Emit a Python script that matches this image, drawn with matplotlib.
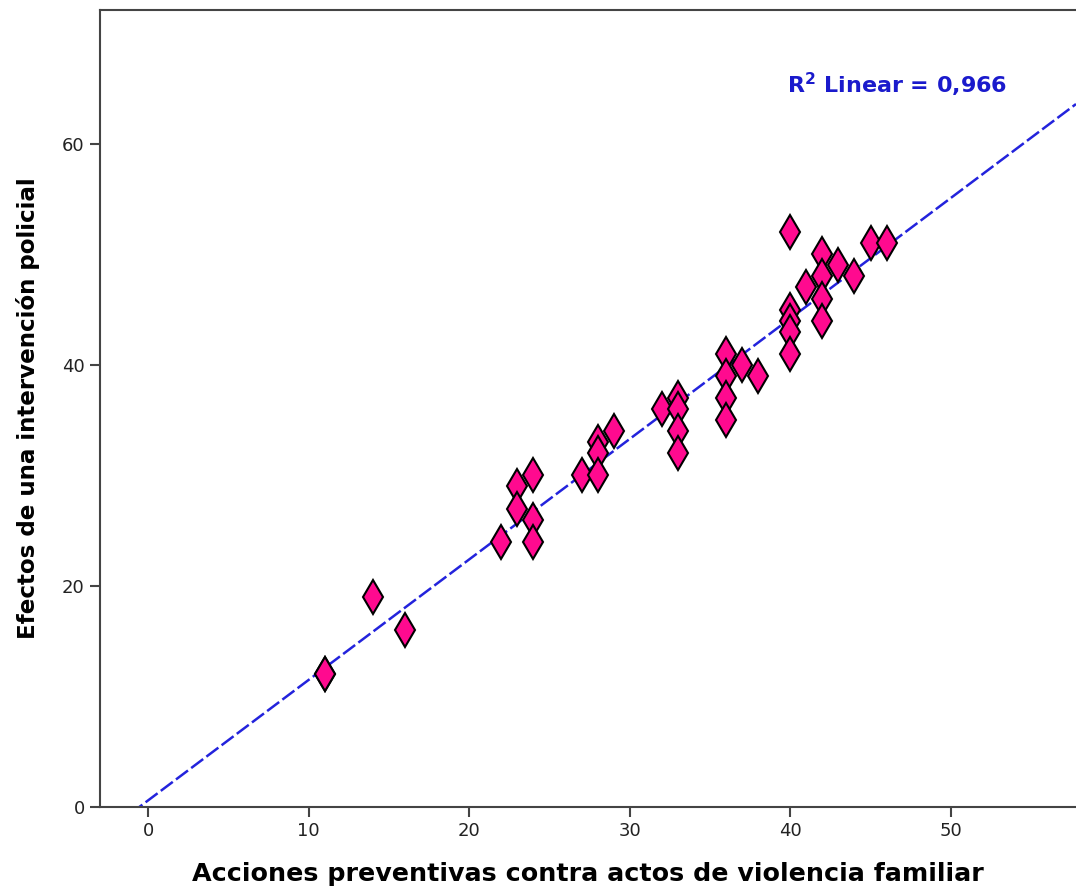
import numpy as np
import matplotlib
matplotlib.use("Agg")
from matplotlib import pyplot as plt

# acciones preventivas (x) vs efectos de una intervencion policial (y)
acciones = [11, 11, 14, 16, 22, 23, 23, 24, 24, 24, 27, 28, 28, 28, 29, 32,
            33, 33, 33, 33, 36, 36, 36, 36, 37, 38, 40, 40, 40, 40, 40, 41,
            42, 42, 42, 42, 43, 44, 45, 46]
efectos = [12, 12, 19, 16, 24, 29, 27, 30, 26, 24, 30, 33, 32, 30, 34, 36,
           37, 36, 34, 32, 41, 39, 37, 35, 40, 39, 52, 45, 44, 43, 41, 47,
           50, 48, 46, 44, 49, 48, 51, 51]
xticks = [0, 10, 20, 30, 40, 50]
yticks = [0, 20, 40, 60]
r2_text = r"R$^2$ Linear = 0,966"

plt.rcParams['mathtext.default'] = 'bf'

x = np.array(acciones, dtype=float)
y = np.array(efectos, dtype=float)
slope, intercept = np.polyfit(x, y, 1)

fig = plt.figure(figsize=(10.76, 8.9), dpi=100)
ax = fig.add_axes([100/1076, 83/890, 976/1076, 797/890])

ax.set_xlim(-3, 57.8)
ax.set_ylim(0, 72.1)

xl = np.array([-3, 57.8])
ax.plot(xl, slope*xl + intercept, color='#2323dc', lw=1.8, dashes=(6, 1.6), zorder=2)

ax.plot(x, y, linestyle='none', marker='d', markersize=17, markerfacecolor='#ff0a8f',
        markeredgecolor='black', markeredgewidth=1.5, zorder=3)

ax.set_xticks(xticks)
ax.set_yticks(yticks)
ax.tick_params(direction='out', length=7, width=1.5, color='#444444', labelsize=13,
               labelcolor='#222222', pad=4)
for s in ['left', 'bottom', 'top']:
    ax.spines[s].set_color('#444444')
    ax.spines[s].set_linewidth(1.5)
ax.spines['right'].set_visible(False)

ax.set_xlabel("Acciones preventivas contra actos de violencia familiar",
              fontsize=18.3, fontweight='bold', labelpad=16)
ax.set_ylabel("Efectos de una intervención policial", fontsize=16.6,
              fontweight='bold', labelpad=16)

# R2 label, figure pixel coords
fig.text(787/1076, 1 - 85/890, r2_text, color='#1a1acc', fontsize=16,
         fontweight='bold', va='center', ha='left')

fig.savefig("out.png", dpi=100)
